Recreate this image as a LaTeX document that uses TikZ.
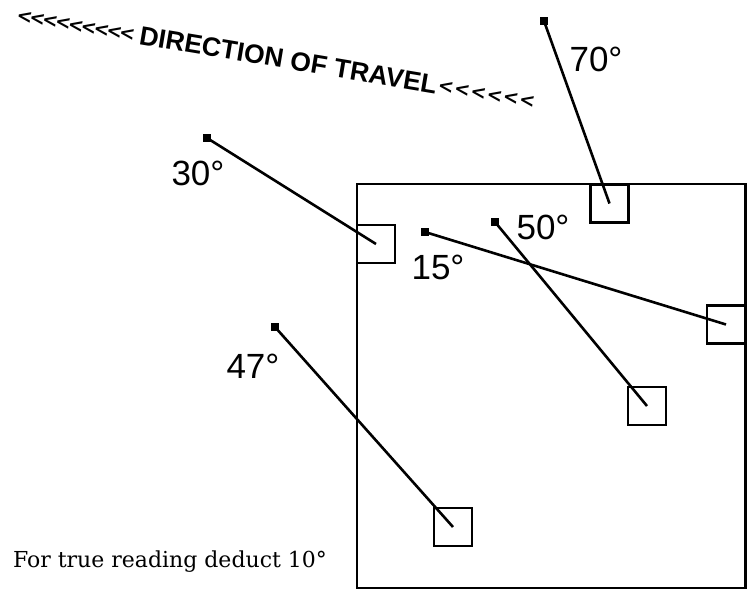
\documentclass[tikz,border=0pt]{standalone}
\usepackage{fontspec}
\setmainfont{DejaVu Serif}
\setsansfont{Liberation Sans}
\newfontfamily\chevfont{DejaVu Sans}
\usetikzlibrary{positioning}

\newcommand\chevrow[2]{%
  \raisebox{2pt}{\chevfont\bfseries\fontsize{19}{20}\selectfont\foreach \c in {1,...,#1}{\makebox[#2]{<}}}}

\begin{document}
\begin{tikzpicture}[
  x=1pt, y=-1pt,
  every node/.style={font=\sffamily},
  frame/.style={draw, line width=2.6pt},
  probe/.style={
    rectangle, draw, line width=2.6pt,
    minimum size=38pt, inner sep=0pt
  },
  tipdot/.style={
    rectangle, fill, minimum size=8pt, inner sep=0pt
  },
  feeler/.style={line width=2.6pt},
  anglelabel/.style={font=\sffamily\fontsize{35}{40}\selectfont, inner sep=0pt},
]
\useasboundingbox (0,0) rectangle (747,596);

% === DIRECTION OF TRAVEL ===
\node[rotate=-9.5, inner sep=0pt, font=\sffamily\bfseries] (travel) at (277,58)
  {\chevrow{9}{13pt}\hspace{6pt}{\fontsize{26.5}{28}\selectfont DIRECTION OF TRAVEL}\hspace{1pt}\chevrow{6}{16.5pt}};

% === FRAME ===
\draw[frame] (357,184) rectangle (745.5,588);

% === PROBES ===
\node[probe] (b30) at (376,244) {};
\node[probe] (b70) at (609.5,203.5) {};
\node[probe] (b15) at (726,324.5) {};
\node[probe] (b50) at (647,406) {};
\node[probe] (b47) at (453,527) {};

% Start points
\node[tipdot] (d30) at (207,138) {};
\node[tipdot] (d70) at (544,21) {};
\node[tipdot] (d15) at (425,232) {};
\node[tipdot] (d50) at (495,222) {};
\node[tipdot] (d47) at (275,327) {};

% Feelers from start point to probe
\foreach \a in {30,70,15,50,47} {
  \draw[feeler] (d\a.center) -- (b\a.center);
}

% Angle labels
\node[anglelabel] (l30) at (198,173) {30°};
\node[anglelabel] (l70) at (596,59) {70°};
\node[anglelabel] (l15) at (438,267) {15°};
\node[anglelabel] (l50) at (543,227) {50°};
\node[anglelabel] (l47) at (253,366) {47°};

% === NOTE ===
\node[font=\rmfamily\fontsize{22}{24}\selectfont, inner sep=0pt] (note) at (170,562)
  {For true reading deduct 10°};

\end{tikzpicture}
\end{document}
